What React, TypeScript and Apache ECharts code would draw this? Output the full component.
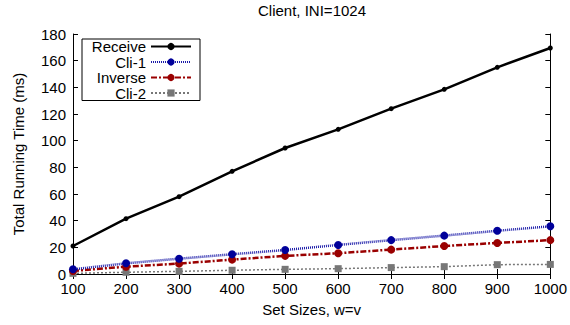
import React, { useEffect, useRef } from "react";
import * as echarts from "echarts";

const setSizes = [100, 200, 300, 400, 500, 600, 700, 800, 900, 1000];
const receive = [21, 41.5, 58, 77, 94.5, 108.5, 124, 138.5, 155, 169.5];
const cli1 = [3.5, 8, 11.5, 14.8, 18, 21.8, 25.4, 28.8, 32.4, 35.8];
const inverse = [2.3, 5.5, 7.8, 10.8, 13.6, 15.6, 18.3, 21, 23.3, 25.4];
const cli2 = [0.5, 1.3, 2, 2.8, 3.5, 4, 4.8, 5.5, 7, 7.2];

const FONT = "Liberation Sans";
const FS = 15;

function pairs(ys: number[]) {
  return setSizes.map((x, i) => [x, ys[i]]);
}

export default function App() {
  const ref = useRef<HTMLDivElement>(null);
  useEffect(() => {
    if (!ref.current) return;
    const chart = echarts.init(ref.current, undefined, { renderer: "svg" });
    const tickStyle = { show: true, inside: true, length: 5, lineStyle: { color: "#000", width: 1 } };
    chart.setOption({
      animation: false,
      backgroundColor: "#fff",
      textStyle: { fontFamily: FONT },
      title: {
        text: "Client, INI=1024",
        left: 312,
        top: 3,
        padding: 0,
        textAlign: "center",
        textStyle: { fontFamily: FONT, fontSize: FS, fontWeight: "normal", color: "#000" },
      },
      grid: { left: 73, right: 15, top: 34, bottom: 51 },
      legend: {
        orient: "vertical",
        left: 82,
        top: 39,
        align: "right",
        itemWidth: 40,
        itemHeight: 9,
        itemGap: 0.5,
        padding: [0, 8, 0, 8],
        borderColor: "#000",
        borderWidth: 1,
        backgroundColor: "#fff",
        textStyle: { fontFamily: FONT, fontSize: FS, color: "#000", width: 56, align: "right", lineHeight: 14 },
        data: ["Receive", "Cli-1", "Inverse", "Cli-2"],
      },
      xAxis: [
        {
          type: "value",
          min: 100,
          max: 1000,
          interval: 100,
          name: "Set Sizes, w=v",
          nameLocation: "middle",
          nameGap: 28,
          nameTextStyle: { fontFamily: FONT, fontSize: FS, color: "#000" },
          axisLine: { show: true, onZero: false, lineStyle: { color: "#000", width: 1 } },
          axisTick: tickStyle,
          axisLabel: { fontFamily: FONT, fontSize: FS, color: "#000", margin: 7, formatter: (v: number) => String(v) },
          splitLine: { show: false },
        },
        {
          type: "value",
          position: "top",
          min: 100,
          max: 1000,
          interval: 100,
          axisLine: { show: true, lineStyle: { color: "#000", width: 1 } },
          axisTick: tickStyle,
          axisLabel: { show: false },
          splitLine: { show: false },
        },
      ],
      yAxis: [
        {
          type: "value",
          min: 0,
          max: 180,
          interval: 20,
          name: "Total Running Time (ms)",
          nameLocation: "middle",
          nameGap: 47,
          nameTextStyle: { fontFamily: FONT, fontSize: FS, color: "#000" },
          axisLine: { show: true, lineStyle: { color: "#000", width: 1 } },
          axisTick: tickStyle,
          axisLabel: { fontFamily: FONT, fontSize: FS, color: "#000", margin: 7 },
          splitLine: { show: false },
        },
        {
          type: "value",
          position: "right",
          min: 0,
          max: 180,
          interval: 20,
          axisLine: { show: true, lineStyle: { color: "#000", width: 1 } },
          axisTick: tickStyle,
          axisLabel: { show: false },
          splitLine: { show: false },
        },
      ],
      series: [
        {
          name: "Receive",
          type: "line",
          data: pairs(receive),
          symbol: "circle",
          symbolSize: 5,
          itemStyle: { color: "#000" },
          lineStyle: { color: "#000", width: 2.5 },
          z: 5,
        },
        {
          name: "Cli-1",
          type: "line",
          data: pairs(cli1),
          symbol: "circle",
          symbolSize: 8,
          itemStyle: { color: "#00009a" },
          lineStyle: { color: "#1a1aa8", width: 2.5, type: [1, 1] },
          z: 4,
        },
        {
          name: "Inverse",
          type: "line",
          data: pairs(inverse),
          symbol: "circle",
          symbolSize: 8,
          itemStyle: { color: "#9a0000" },
          lineStyle: { color: "#9a0000", width: 2.5, type: [6, 2, 2, 2] },
          z: 3,
        },
        {
          name: "Cli-2",
          type: "line",
          data: pairs(cli2),
          symbol: "rect",
          symbolSize: 7,
          itemStyle: { color: "#777" },
          lineStyle: { color: "#777", width: 1.5, type: [2, 2] },
          z: 2,
        },
      ],
    });
    return () => chart.dispose();
  }, []);
  return <div ref={ref} style={{ width: 570, height: 325, position: "absolute", left: 0, top: 0 }} />;
}
